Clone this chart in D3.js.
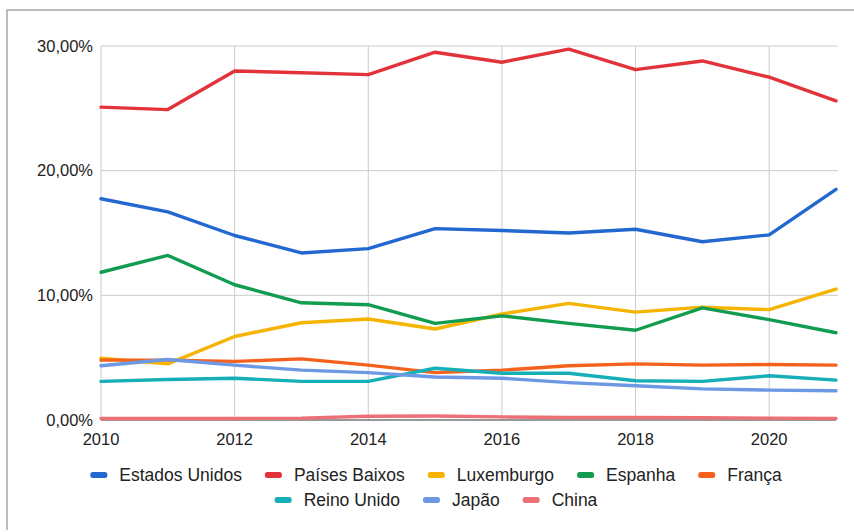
<!DOCTYPE html>
<html>
<head>
<meta charset="utf-8">
<script src="https://cdn.jsdelivr.net/npm/d3@7"></script>
<style>
  html, body { margin: 0; padding: 0; background: #fff; }
  svg { display: block; }
  text { font-family: "Liberation Sans", Arial, sans-serif; fill: #222; }
</style>
</head>
<body>
<svg id="chart" width="854" height="532"></svg>
<script>
// Years on the horizontal axis
const years = [2010, 2011, 2012, 2013, 2014, 2015, 2016, 2017, 2018, 2019, 2020, 2021];

// Share per country (%)
const estadosUnidos = [17.75, 16.7, 14.8, 13.4, 13.75, 15.35, 15.2, 15.0, 15.3, 14.3, 14.85, 18.5];
const paisesBaixos  = [25.1, 24.9, 28.0, 27.85, 27.7, 29.5, 28.7, 29.75, 28.1, 28.8, 27.5, 25.6];
const luxemburgo    = [4.95, 4.5, 6.7, 7.8, 8.1, 7.3, 8.5, 9.35, 8.65, 9.05, 8.85, 10.5];
const espanha       = [11.85, 13.2, 10.85, 9.4, 9.25, 7.75, 8.35, 7.75, 7.2, 9.0, 8.05, 7.0];
const franca        = [4.8, 4.8, 4.7, 4.9, 4.4, 3.8, 4.0, 4.35, 4.5, 4.4, 4.45, 4.4];
const reinoUnido    = [3.1, 3.25, 3.35, 3.1, 3.1, 4.15, 3.75, 3.75, 3.15, 3.1, 3.55, 3.2];
const japao         = [4.35, 4.85, 4.4, 4.0, 3.8, 3.45, 3.35, 3.0, 2.75, 2.5, 2.4, 2.35];
const china         = [0.12, 0.12, 0.12, 0.15, 0.3, 0.32, 0.25, 0.2, 0.2, 0.18, 0.15, 0.12];

const seriesNames = ["Estados Unidos", "Países Baixos", "Luxemburgo", "Espanha", "França", "Reino Unido", "Japão", "China"];
const seriesValues = [estadosUnidos, paisesBaixos, luxemburgo, espanha, franca, reinoUnido, japao, china];
const seriesColors = ["#2368d0", "#e2333a", "#f5b400", "#119c50", "#f4611c", "#16afb7", "#6c98e4", "#ee7077"];

const yTicks = [0, 10, 20, 30];
const xTicks = [2010, 2012, 2014, 2016, 2018, 2020];

const svg = d3.select("#chart");

// Outer frame (top and left edges)
svg.append("path")
  .attr("d", "M7,530 L7,10 L854,10")
  .attr("fill", "none")
  .attr("stroke", "#a6a6a6")
  .attr("stroke-width", 1.5);

const x = d3.scaleLinear().domain([2010, 2021]).range([101, 836]);
const y = d3.scaleLinear().domain([0, 30]).range([420, 46]);

// Gridlines
const grid = svg.append("g");
grid.selectAll("line.h").data(yTicks.filter(d => d > 0)).join("line")
  .attr("x1", x(2010)).attr("x2", 838)
  .attr("y1", d => y(d)).attr("y2", d => y(d))
  .attr("stroke", "#cccccc").attr("stroke-width", 1);
grid.selectAll("line.v").data(xTicks).join("line")
  .attr("x1", d => x(d)).attr("x2", d => x(d))
  .attr("y1", y(30)).attr("y2", y(0))
  .attr("stroke", "#cccccc").attr("stroke-width", 1);

// Y axis labels
const fmt = v => d3.format(".2f")(v).replace(".", ",") + "%";
svg.append("g").selectAll("text").data(yTicks).join("text")
  .attr("x", 93).attr("y", d => y(d))
  .attr("dy", "0.35em")
  .attr("text-anchor", "end")
  .attr("font-size", 16.5)
  .text(fmt);

// X axis labels
svg.append("g").selectAll("text").data(xTicks).join("text")
  .attr("x", d => x(d)).attr("y", 445)
  .attr("text-anchor", "middle")
  .attr("font-size", 16.5)
  .text(d => d);

// Lines
const line = d3.line()
  .x((d, i) => x(years[i]))
  .y(d => y(d));

// Baseline
svg.append("line")
  .attr("x1", x(2010)).attr("x2", 836)
  .attr("y1", y(0)).attr("y2", y(0))
  .attr("stroke", "#333").attr("stroke-width", 1.2);

svg.append("g").selectAll("path").data(seriesValues).join("path")
  .attr("d", d => line(d))
  .attr("fill", "none")
  .attr("stroke", (d, i) => seriesColors[i])
  .attr("stroke-width", 3.4)
  .attr("stroke-linejoin", "round")
  .attr("stroke-linecap", "round");

// Legend (two centered rows)
const legendRows = [[0, 1, 2, 3, 4], [5, 6, 7]];
const rowY = [475, 500];
const swatchW = 17, swatchGap = 12, itemGap = 23;
const legend = svg.append("g");
legendRows.forEach((row, r) => {
  const g = legend.append("g");
  let cx = 0;
  row.forEach(i => {
    const item = g.append("g").attr("transform", `translate(${cx},0)`);
    item.append("rect")
      .attr("x", 0).attr("y", rowY[r] - 3)
      .attr("width", swatchW).attr("height", 6)
      .attr("rx", 2.5)
      .attr("fill", seriesColors[i]);
    const t = item.append("text")
      .attr("x", swatchW + swatchGap).attr("y", rowY[r])
      .attr("dy", "0.35em")
      .attr("font-size", 17.5)
      .text(seriesNames[i]);
    cx += swatchW + swatchGap + t.node().getComputedTextLength() + itemGap;
  });
  const total = cx - itemGap;
  g.attr("transform", `translate(${436 - total / 2},0)`);
});
</script>
</body>
</html>
